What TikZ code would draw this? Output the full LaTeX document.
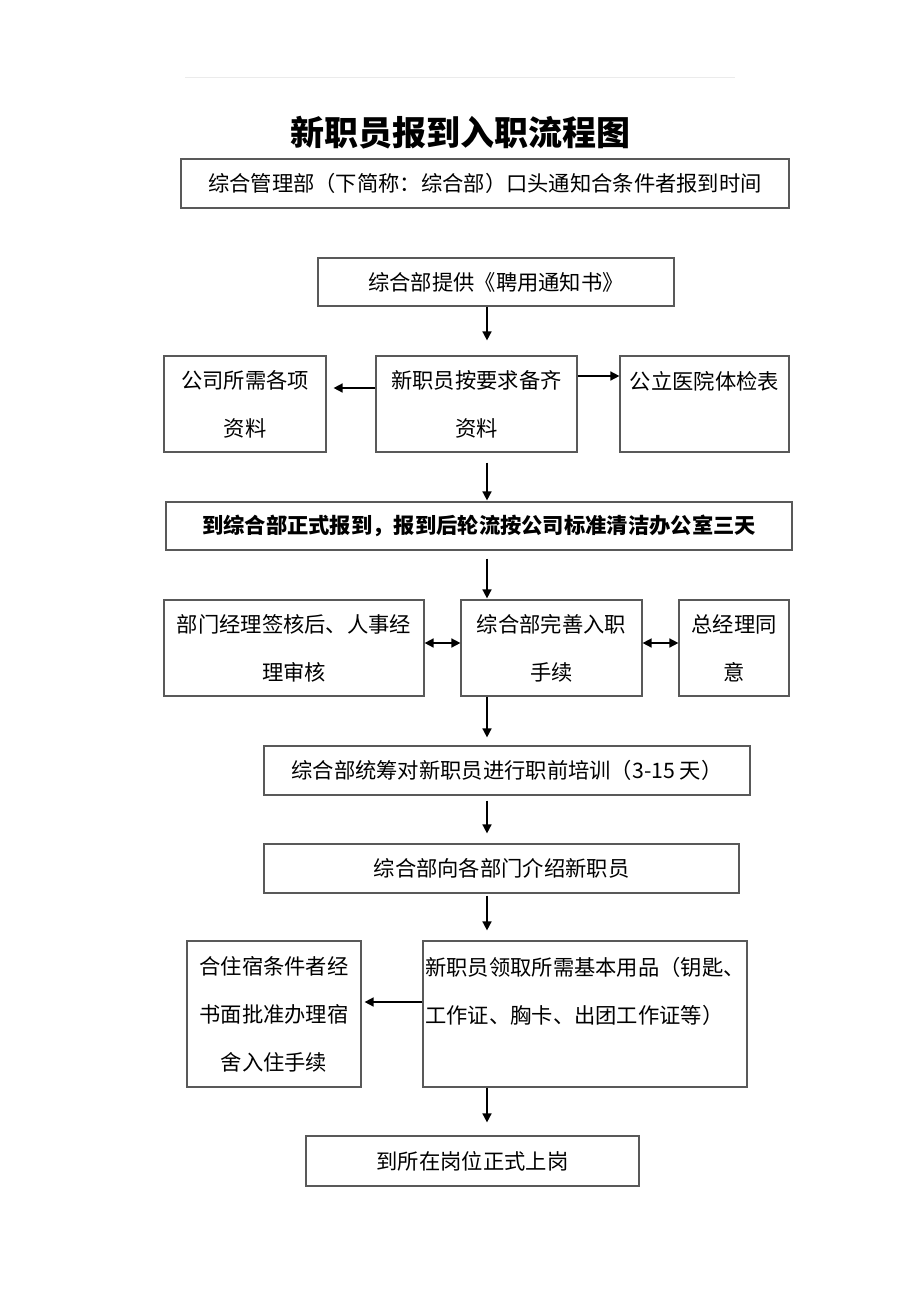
\documentclass[tikz,border=0pt]{standalone}
\usepackage{fontspec}
\newfontfamily\cjk{Noto Sans CJK SC}
\usepackage{tikz}
\usetikzlibrary{arrows.meta, positioning}

\begin{document}
\begin{tikzpicture}[x=1pt, y=-1pt,
    box/.style={draw=black!65, line width=1.2pt, rectangle, inner sep=0pt, align=center,
                font=\cjk\fontsize{21.3}{48}\selectfont},
    arr/.style={-{Triangle[length=9pt, width=9pt]}, line width=1.6pt},
    dbl/.style={{Triangle[length=9pt, width=9pt]}-{Triangle[length=9pt, width=9pt]}, line width=1.6pt}]
    \useasboundingbox (0,0) rectangle (920,1302);
    \draw[black!8, line width=0.6pt] (185,77) -- (735,77);
    \coordinate (spine) at (487,0);

    \node[font=\cjk\bfseries\fontsize{34}{40}\selectfont] (title) at (460,133) {新职员报到入职流程图};

    \node[box, minimum width=608pt, minimum height=49pt] (notify) at (485,183.5) {综合管理部（下简称：综合部）口头通知合条件者报到时间};
    \node[box, minimum width=356pt, minimum height=48pt] (notice) at (496,282) {综合部提供《聘用通知书》};

    \node[box, minimum width=201pt, minimum height=96pt] (prep) at (476.5,404) {新职员按要求备齐\\资料};
    \node[box, minimum width=162pt, minimum height=96pt] (compdocs) at (245,404) {公司所需各项\\资料};
    \node[box, minimum width=169pt, minimum height=96pt] (medical) at (704.5,404) {公立医院体检表\\~};

    \node[box, minimum width=626pt, minimum height=48pt, font=\cjk\bfseries\fontsize{21.3}{48}\selectfont] (report) at (479,526) {到综合部正式报到，报到后轮流按公司标准清洁办公室三天};

    \node[box, minimum width=260pt, minimum height=96pt] (mgr) at (294,648) {部门经理签核后、人事经\\理审核};
    \node[box, minimum width=181pt, minimum height=96pt] (complete) at (551.5,648) {综合部完善入职\\手续};
    \node[box, minimum width=110pt, minimum height=96pt] (gm) at (734,648) {总经理同\\意};

    \node[box, minimum width=486pt, minimum height=49pt] (train) at (507,770.5) {综合部统筹对新职员进行职前培训（3-15 天）};
    \node[box, minimum width=475pt, minimum height=49pt] (intro) at (501.5,868.5) {综合部向各部门介绍新职员};

    \node[box, minimum width=174pt, minimum height=146pt] (dorm) at (274,1014) {合住宿条件者经\\书面批准办理宿\\舍入住手续};
    \node[box, minimum width=324pt, minimum height=146pt, align=left] (supplies) at (585,1014) {新职员领取所需基本用品（钥匙、\\工作证、胸卡、出团工作证等）\\~};

    \node[box, minimum width=333pt, minimum height=50pt] (onboard) at (472.5,1161) {到所在岗位正式上岗};

    % main line
    \draw[arr, shorten >=15pt] (notice.south -| spine) -- (prep.north -| spine);
    \draw[arr, shorten <=10pt, shorten >=1pt] (prep.south -| spine) -- (report.north -| spine);
    \draw[arr, shorten <=8pt, shorten >=1pt] (report.south -| spine) -- (complete.north -| spine);
    \draw[arr, shorten >=8pt] (complete.south -| spine) -- (train.north -| spine);
    \draw[arr, shorten <=5pt, shorten >=10pt] (train.south -| spine) -- (intro.north -| spine);
    \draw[arr, shorten <=2pt, shorten >=10pt] (intro.south -| spine) -- (supplies.north -| spine);
    \draw[arr, shorten >=13pt] (supplies.south -| spine) -- (onboard.north -| spine);

    % side branches
    \draw[arr, shorten >=7pt] ([yshift=16pt]prep.west) -- ([yshift=16pt]compdocs.east);
    \draw[arr] ([yshift=28pt]prep.east) -- ([yshift=28pt]medical.west);
    \draw[dbl] ([yshift=5pt]mgr.east) -- ([yshift=5pt]complete.west);
    \draw[dbl] ([yshift=5pt]complete.east) -- ([yshift=5pt]gm.west);
    \draw[arr, shorten >=3pt] ([yshift=12pt]supplies.west) -- ([yshift=12pt]dorm.east);
\end{tikzpicture}
\end{document}
